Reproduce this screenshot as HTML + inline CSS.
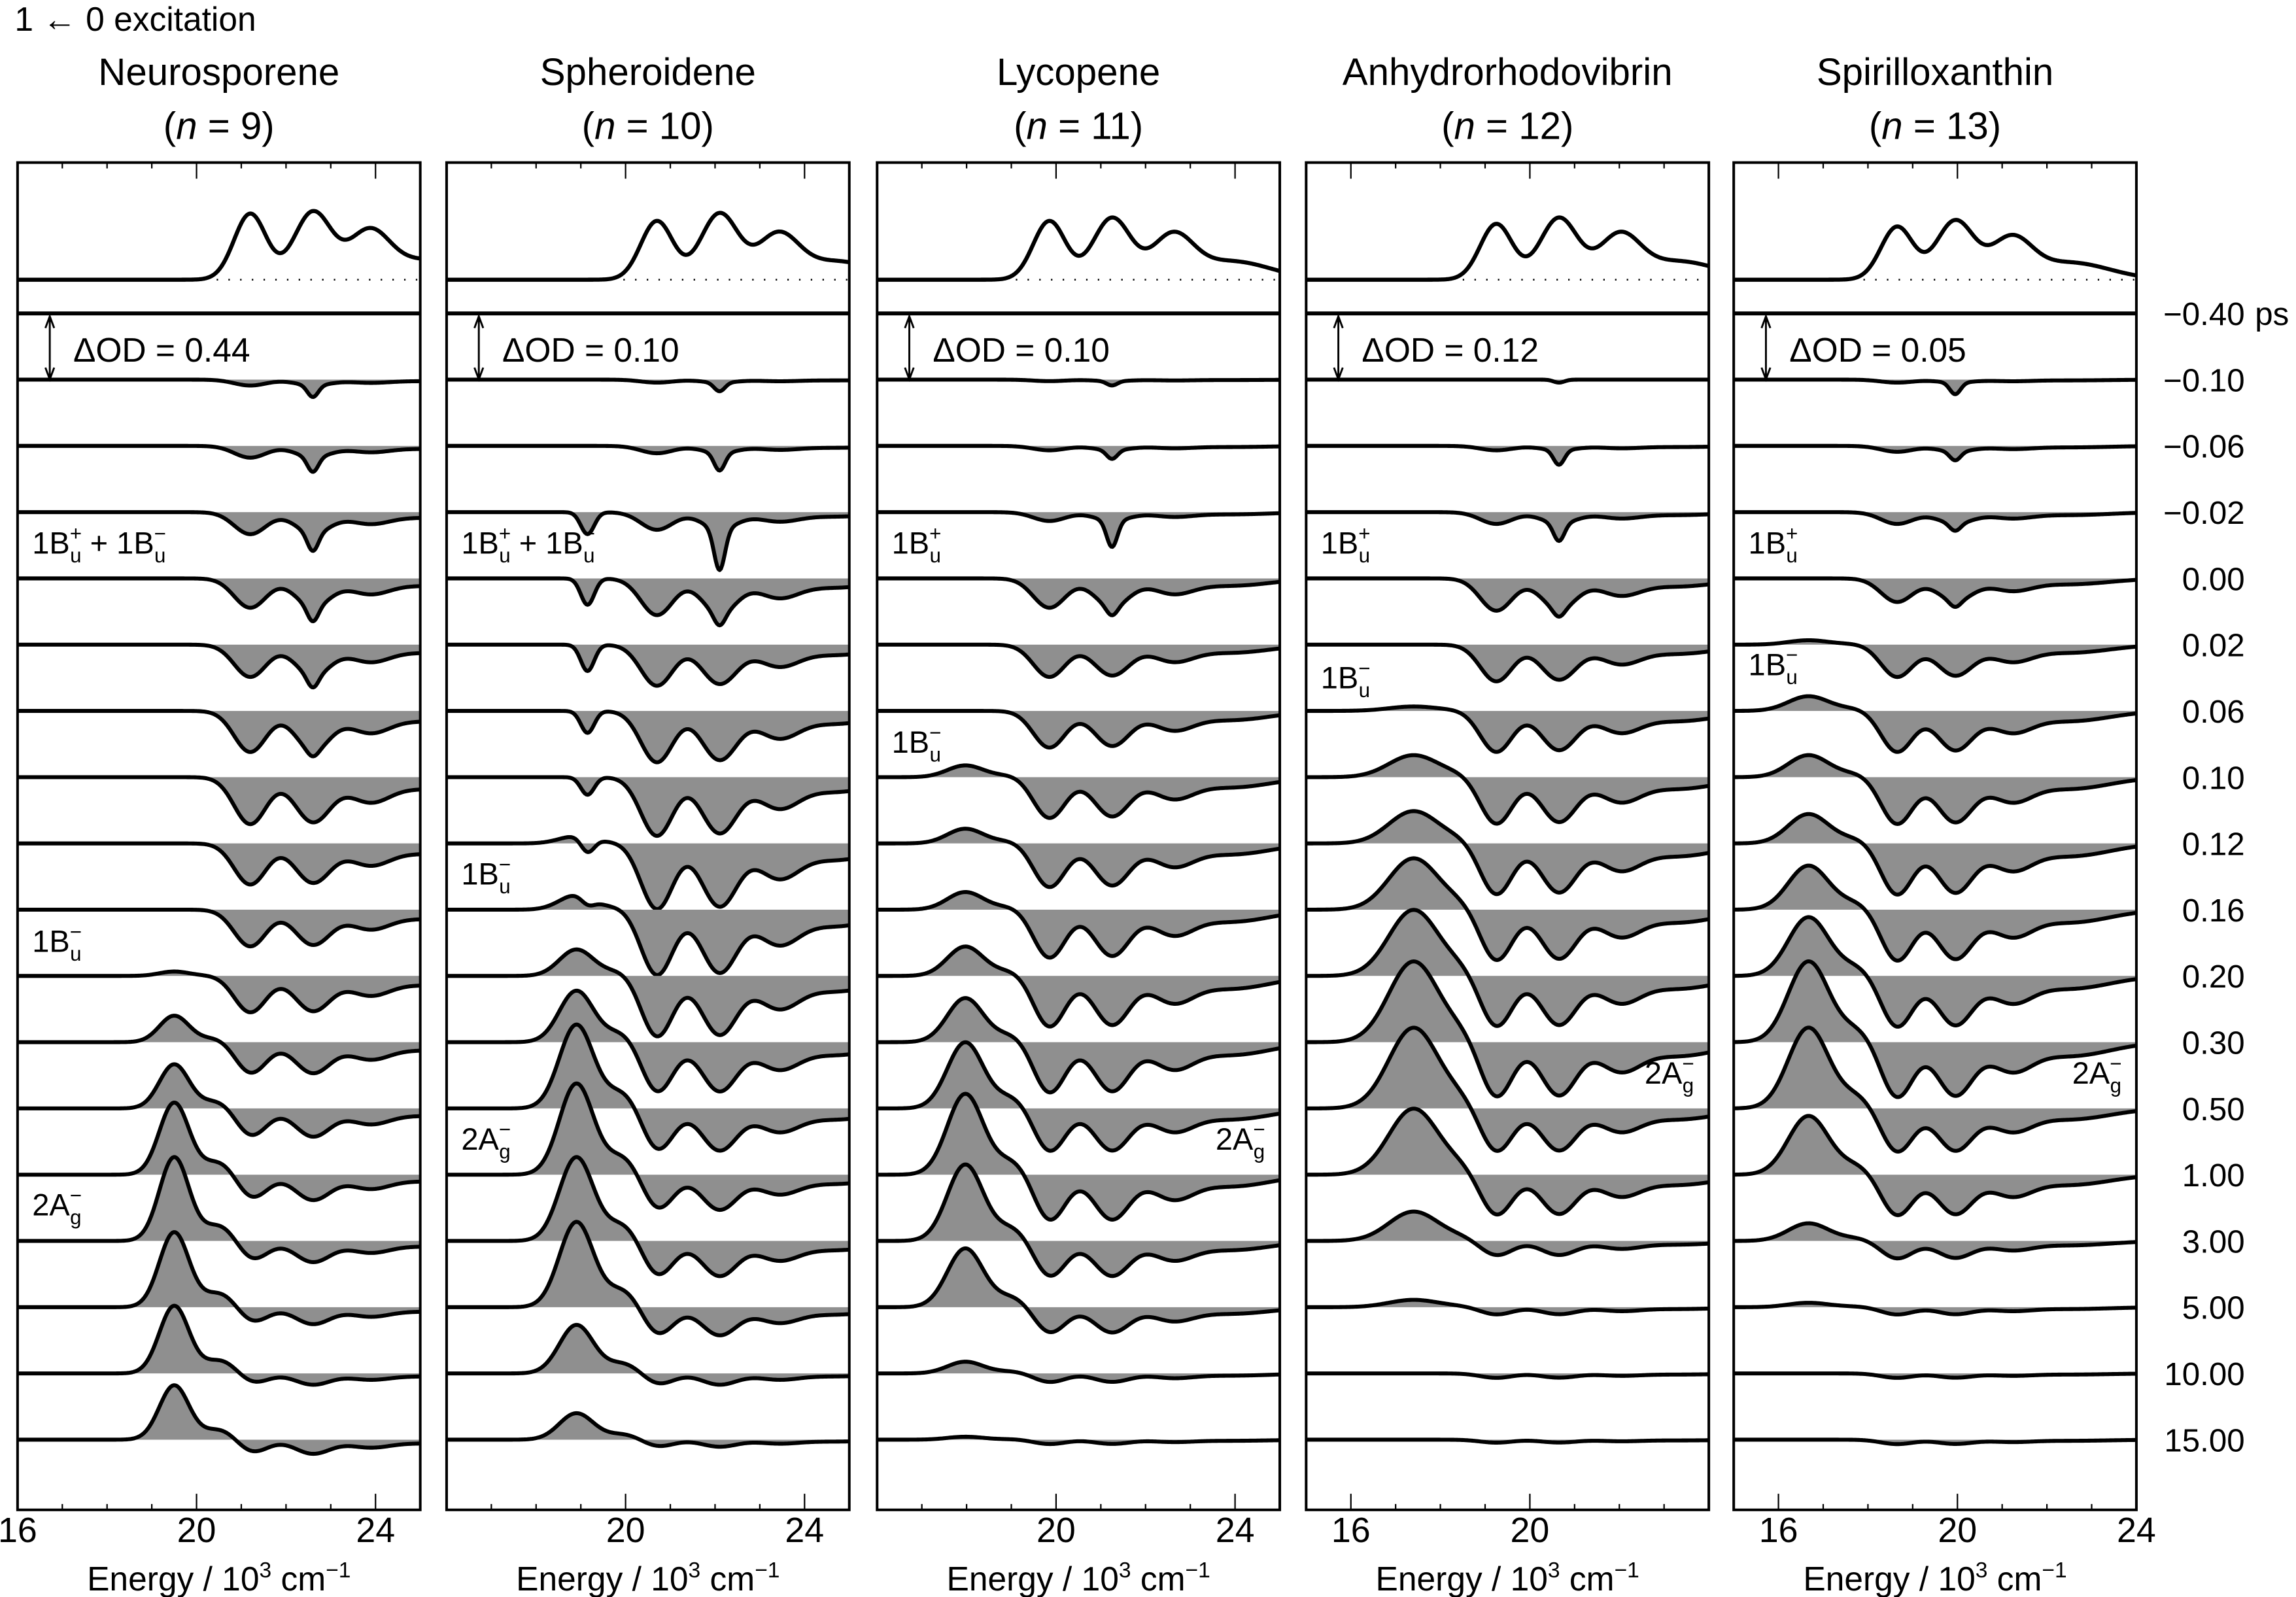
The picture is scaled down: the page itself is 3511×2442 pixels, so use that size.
<!DOCTYPE html>
<html><head><meta charset="utf-8"><style>
html,body{margin:0;padding:0;background:#fff}
svg{display:block}
text{font-family:"Liberation Sans",sans-serif;fill:#000}
</style></head><body>
<svg id="chart" xmlns="http://www.w3.org/2000/svg" width="3511" height="2442" viewBox="0 0 1568 1090.5" preserveAspectRatio="none">
<text x="10" y="21" font-size="23">1 ← 0 excitation</text>
</svg>
<script>
// ---- data ----
const times = ["\u22120.40","\u22120.10","\u22120.06","\u22120.02","0.00","0.02","0.06","0.10","0.12","0.16","0.20","0.30","0.50","1.00","3.00","5.00","10.00","15.00"];
const panelNames = ["Neurosporene","Spheroidene","Lycopene","Anhydrorhodovibrin","Spirilloxanthin"];
const panelN = ["9","10","11","12","13"];
const xMin = [16,16,16,15,15];
const xMax = [25,25,25,24,24];
const xTicksLabeled = [[16,20,24],[20,24],[20,24],[16,20],[16,20,24]];
const dOD = ["0.44","0.10","0.10","0.12","0.05"];
const absPeaks = [[21.2,22.6,23.85],[20.7,22.1,23.4],[19.85,21.25,22.6],[19.25,20.65,22.0],[18.65,19.95,21.2]];
const absHeights = [[45,46,30],[40,45,28],[40,42,28],[38,42,28],[36,40,26]];
const esaCenter = [19.5,18.9,17.97,17.4,16.67];
const esaWidth = [0.33,0.38,0.4,0.55,0.45];
const esaShoulder = [0.22,0.22,0.18,0.1,0.15];
const esaAmp = [
 [0,0,0,0,0,0,0,0,0,0,3,18,30,49,57,51,46,37],
 [0,0,0,0,0,0,0,0,5,10,18,35,57,62,57,58,33,18],
 [0,0,0,0,0,0,0,8,10,12,20,30,45,55,52,40,8,2],
 [0,0,0,0,0,0,3,15,22,35,45,55,55,45,20,5,0,0],
 [0,0,0,0,0,3,10,15,20,30,40,55,55,40,12,3,0,0]];
const bleachAmp = [
 [0,4,8,15,20,22,28,32,28,25,25,22,20,18,15,12,8,10],
 [0,2,5,12,25,28,35,40,45,45,42,35,30,25,25,20,8,5],
 [0,1,3,6,20,22,25,28,30,33,35,35,30,32,25,18,6,3],
 [0,0,3,8,22,25,28,32,35,35,35,38,30,28,10,5,3,2],
 [0,2,4,8,16,22,28,32,35,35,35,38,30,28,12,5,3,3]];
const sharpAmp = [
 [0,8,10,12,10,8,4,0,0,0,0,0,0,0,0,0,0,0],
 [0,6,12,28,8,0,0,0,0,0,0,0,0,0,0,0,0,0],
 [0,3,6,18,6,0,0,0,0,0,0,0,0,0,0,0,0,0],
 [0,2,10,12,5,0,0,0,0,0,0,0,0,0,0,0,0,0],
 [0,8,6,5,4,0,0,0,0,0,0,0,0,0,0,0,0,0]];
const extraDipE = [19.15,19.15,19.0,18.5,18.0];
const extraDip = [
 [0,0,0,0,0,0,0,0,0,0,0,0,0,0,0,0,0,0],
 [0,0,0,15,18,18,15,12,10,5,0,0,0,0,0,0,0,0],
 [0,0,0,0,0,0,0,0,0,0,0,0,0,0,0,0,0,0],
 [0,0,0,0,0,0,0,0,0,0,0,0,0,0,0,0,0,0],
 [0,0,0,0,0,0,0,0,0,0,0,0,0,0,0,0,0,0]];
const stateLabels = [
 [["+","\u2212",378],["\u2212",null,650],["g",null,830]],
 [["+","\u2212",378],["\u2212",null,604],["g",null,785]],
 [["+",null,378],["\u2212",null,514],["gR",null,785]],
 [["+",null,378],["\u2212",null,470],["gR",null,740]],
 [["+",null,378],["\u2212",null,461],["gR",null,740]]];

// ---- layout ----
const svgEl = document.getElementById('chart');
const NS = "http://www.w3.org/2000/svg";
const panelLeft = [12,305,599,892,1184];
const panelW = 275;
const plotTop = 111, plotBottom = 1031;
const absBase = 191;
const row0 = 214, rowStep = 45.24;
function mk(tag, attrs, parent){const e=document.createElementNS(NS,tag);for(const k in attrs)e.setAttribute(k,attrs[k]);(parent||svgEl).appendChild(e);return e;}
function g(E,c,s){return Math.exp(-(E-c)*(E-c)/(2*s*s));}
function xScale(p,E){return panelLeft[p]+(E-xMin[p])/(xMax[p]-xMin[p])*panelW;}
function absShape(p,E){const pk=absPeaks[p],h=absHeights[p];
 return h[0]*g(E,pk[0],0.36)+h[1]*g(E,pk[1],0.42)+h[2]*g(E,pk[2],0.45)+0.45*h[2]*g(E,pk[2]+1.3,0.9);}
function bleachShape(p,E){const pk=absPeaks[p];
 return g(E,pk[0],0.36)+0.95*g(E,pk[1],0.4)+0.45*g(E,pk[2],0.45)+0.25*g(E,pk[2]+1.3,0.9);}
function signal(p,r,E){
 return esaAmp[p][r]*(g(E,esaCenter[p],esaWidth[p])+esaShoulder[p]*g(E,esaCenter[p]+1.1,0.4))
  - bleachAmp[p][r]*bleachShape(p,E)
  - sharpAmp[p][r]*g(E,absPeaks[p][1],0.12)
  - extraDip[p][r]*g(E,extraDipE[p],0.15);}

const N=320;
for(let p=0;p<5;p++){
 const L=panelLeft[p];
 const grp=mk('g',{});
 
 
 const cx=L+panelW/2;
 const t1=mk('text',{x:cx,y:58,'font-size':26,'text-anchor':'middle'},grp);t1.textContent=panelNames[p];
 
 
 const t2=mk('text',{x:cx,y:95,'font-size':26,'text-anchor':'middle'},grp);
 t2.textContent='(';
 const it=mk('tspan',{'font-style':'italic'},t2);it.textContent='n';
 const rest=mk('tspan',{},t2);rest.textContent=' = '+panelN[p]+')';
 
 
 const cid='clip'+p;
 const cp=mk('clipPath',{id:cid},grp);mk('rect',{x:L,y:plotTop,width:panelW,height:plotBottom-plotTop},cp);
 const plot=mk('g',{'clip-path':'url(#'+cid+')'},grp);
 let d='';
 for(let i=0;i<=N;i++){const E=xMin[p]+(xMax[p]-xMin[p])*i/N;d+=(i?'L':'M')+xScale(p,E).toFixed(2)+' '+(absBase-absShape(p,E)).toFixed(2);}
 const onset=xScale(p,absPeaks[p][0]-0.75);
 const dl=mk('line',{x1:onset,y1:absBase,x2:L+panelW,y2:absBase,stroke:'#000','stroke-width':1.2,'stroke-dasharray':'1 7'},plot);
 
 
 const ab=mk('path',{d:d,fill:'none',stroke:'#000','stroke-width':2.8},plot);
 
 
 for(let r=0;r<times.length;r++){
  const base=row0+r*rowStep;
  let pts=[];
  for(let i=0;i<=N;i++){const E=xMin[p]+(xMax[p]-xMin[p])*i/N;pts.push([xScale(p,E),base-signal(p,r,E)]);}
  let pd='M'+pts[0][0]+' '+base;pts.forEach(q=>pd+='L'+q[0].toFixed(2)+' '+q[1].toFixed(2));pd+='L'+pts[N][0]+' '+base+'Z';
  const f=mk('path',{d:pd,fill:'#8f8f8f',stroke:'none'},plot);
  
  
  let ld='';pts.forEach((q,i)=>ld+=(i?'L':'M')+q[0].toFixed(2)+' '+q[1].toFixed(2));
  const ln=mk('path',{d:ld,fill:'none',stroke:'#000','stroke-width':2.7,'stroke-linejoin':'round'},plot);
  
  
 }
 const fr=mk('rect',{x:L,y:plotTop,width:panelW,height:plotBottom-plotTop,fill:'none',stroke:'#000','stroke-width':1.8},grp);
 
 
 for(let E=Math.ceil(xMin[p]);E<=xMax[p];E++){
  const x=xScale(p,E); if(x<=L+1||x>=L+panelW-1)continue;
  const len=(E%4===0)?11:4;
  mk('line',{x1:x,y1:plotTop,x2:x,y2:plotTop+len,stroke:'#000','stroke-width':1},grp);
  mk('line',{x1:x,y1:plotBottom,x2:x,y2:plotBottom-len,stroke:'#000','stroke-width':1},grp);
 }
 xTicksLabeled[p].forEach(E=>{const t=mk('text',{x:xScale(p,E),y:1053,'font-size':24,'text-anchor':'middle'},grp);t.textContent=E;
  
  });
 const xt=mk('text',{x:cx,y:1086,'font-size':23,'text-anchor':'middle'},grp);
 
 
 [['Energy / 10',{}],['3',{'font-size':15,dy:-9}],[' cm',{dy:9}],['\u22121',{'font-size':15,dy:-9}]].forEach(s=>{const ts=mk('tspan',s[1],xt);ts.textContent=s[0];});
 const ax=L+22;
 const ar=mk('path',{d:`M${ax} 216 L${ax} 259 M${ax-3} 224 L${ax} 216 L${ax+3} 224 M${ax-3} 251 L${ax} 259 L${ax+3} 251`,stroke:'#000','stroke-width':1.3,fill:'none'},grp);
 
 
 const dt=mk('text',{x:ax+16,y:247,'font-size':23},grp);dt.textContent='\u0394OD = '+dOD[p];
 
 
 stateLabels[p].forEach(s=>{
  const right=s[0]==='gR';
  const t=mk('text',{x:right?L+panelW-10:L+10,y:s[2],'font-size':21,'text-anchor':right?'end':'start'},grp);
  
  
  let parts;
  if(s[0]==='g'||s[0]==='gR') parts=[['2A',{}],['\u2212',{'font-size':14,dy:-9}],['g',{'font-size':14,dx:-8,dy:15}]];
  else {parts=[['1B',{}],[s[0],{'font-size':14,dy:-9}],['u',{'font-size':14,dx:-8,dy:15}]];
   if(s[1]) parts=parts.concat([[' + 1B',{dy:-6}],['\u2212',{'font-size':14,dy:-9}],['u',{'font-size':14,dx:-8,dy:15}]]);}
  parts.forEach(q=>{const ts=mk('tspan',q[1],t);ts.textContent=q[0];});
 });
}
for(let r=0;r<times.length;r++){
 const t=mk('text',{x:1533,y:row0+r*rowStep+8,'font-size':22,'text-anchor':'end'});
 t.textContent=times[r];
 
 
}
const ps=mk('text',{x:1540,y:row0+8,'font-size':22});ps.textContent='ps';


</script>
</body></html>
